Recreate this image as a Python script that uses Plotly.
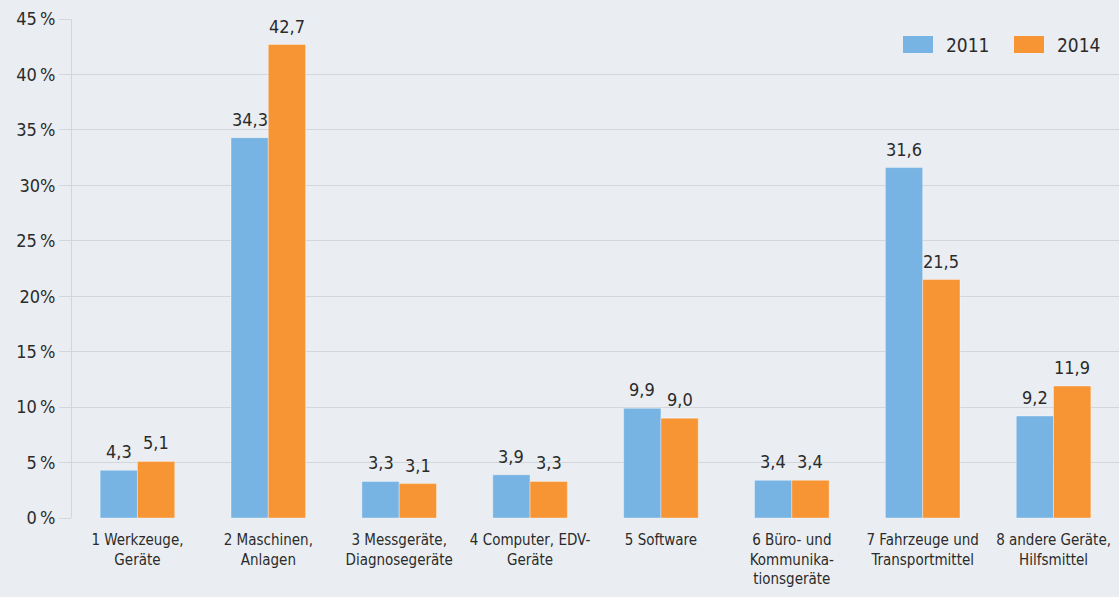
import plotly.graph_objects as go

categories = ["1 Werkzeuge,<br>Geräte", "2 Maschinen,<br>Anlagen", "3 Messgeräte,<br>Diagnosegeräte",
              "4 Computer, EDV-<br>Geräte", "5 Software", "6 Büro- und<br>Kommunika-<br>tionsgeräte",
              "7 Fahrzeuge und<br>Transportmittel", "8 andere Geräte,<br>Hilfsmittel"]
series_names = ["2011", "2014"]
v2011 = [4.3, 34.3, 3.3, 3.9, 9.9, 3.4, 31.6, 9.2]
v2014 = [5.1, 42.7, 3.1, 3.3, 9.0, 3.4, 21.5, 11.9]
colors = ["#78b4e3", "#f79433"]
tick_vals = [0, 5, 10, 15, 20, 25, 30, 35, 40, 45]
tick_text = ["0\u2009%", "5\u2009%", "10\u2009%", "15\u2009%", "20%", "25\u2009%", "30%", "35\u2009%", "40\u2009%", "45\u2009%"]

FONT = "DejaVu Sans Condensed, Liberation Sans Narrow, sans-serif"
TXT = "#2b2b2b"
W, H = 1119, 597
L, R, T, B = 72, 0, 19, 79
BARGAP = 0.43

def fmt(v):
    return f"{v:.1f}".replace(".", ",")

fig = go.Figure()
for name, vals, col in zip(series_names, [v2011, v2014], colors):
    fig.add_trace(go.Bar(name=name, x=categories, y=vals, marker_color=col,
                         marker_line=dict(width=0.6, color="rgba(255,255,255,0.6)")))

# value labels above bars (offset to each bar within the group)
cat_px = (W - L - R) / len(categories)
bar_px = cat_px * (1 - BARGAP) / 2
for i, vals in enumerate([v2011, v2014]):
    shift = (i - 0.5) * bar_px
    for c, v in zip(categories, vals):
        fig.add_annotation(x=c, y=v, text=fmt(v), showarrow=False, xshift=shift,
                           yanchor="bottom", yshift=6,
                           font=dict(size=18, color=TXT, family=FONT))

# custom legend (larger swatches like the reference)
legend_pos = [(903, 944), (1014, 1055)]
ph = H - T - B
for (sx, tx), name, col in zip(legend_pos, series_names, colors):
    fig.add_shape(type="rect", xref="paper", yref="paper",
                  x0=(sx - L) / (W - L), x1=(sx + 30 - L) / (W - L),
                  y0=(H - B - 53) / ph, y1=(H - B - 36) / ph,
                  fillcolor=col, line=dict(width=0))
    fig.add_annotation(xref="paper", yref="paper", x=(tx - L) / (W - L),
                       y=(H - B - 44.5) / ph, text=name, showarrow=False,
                       xanchor="left", yanchor="middle",
                       font=dict(size=19, color=TXT, family=FONT))

fig.update_layout(
    width=W, height=H,
    margin=dict(l=L, r=R, t=T, b=B),
    paper_bgcolor="#eaeef2", plot_bgcolor="#eaeef2",
    barmode="group", bargap=BARGAP, bargroupgap=0,
    font=dict(family=FONT, color=TXT),
    showlegend=False,
)
fig.update_yaxes(range=[0, 45], tickvals=tick_vals, ticktext=tick_text,
                 showgrid=True, gridcolor="#d3d6da", gridwidth=1,
                 ticks="outside", ticklen=12, tickcolor="#d3d6da",
                 showline=True, linecolor="#d3d6da", linewidth=1,
                 tickfont=dict(size=18, color=TXT, family=FONT), zeroline=False)
fig.update_xaxes(tickfont=dict(size=15, color=TXT, family=FONT), showline=False,
                 ticks="", tickangle=0, ticklabelstandoff=11)

fig.write_html("out.html")
